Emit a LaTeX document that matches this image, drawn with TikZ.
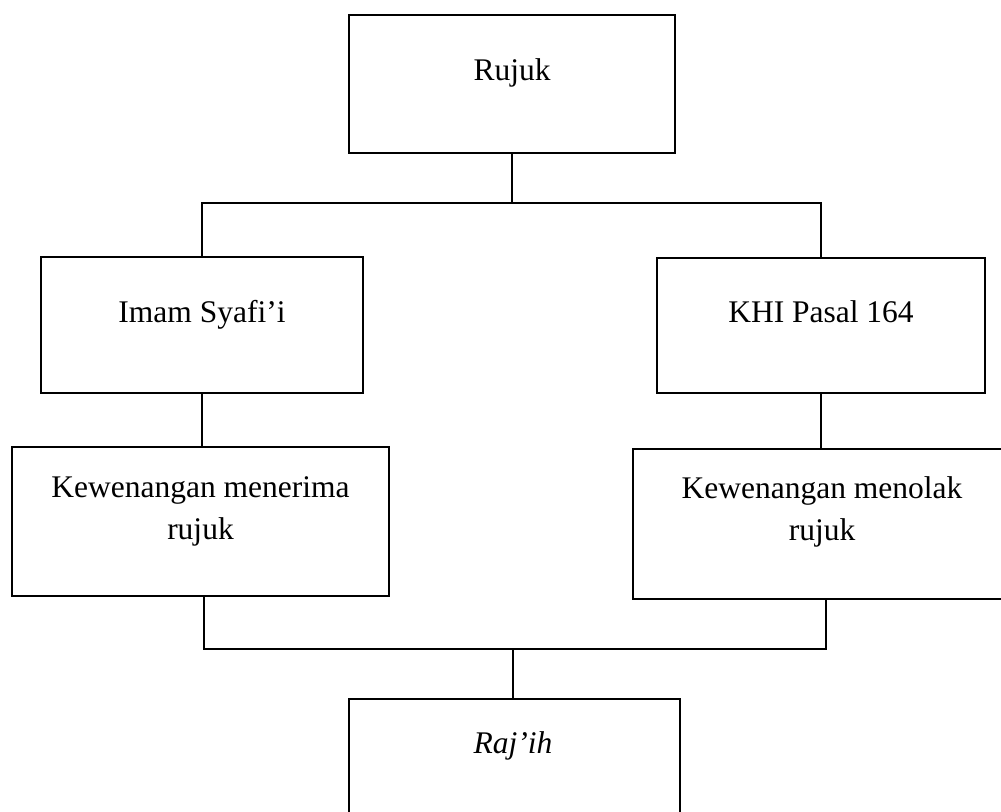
\documentclass[tikz,border=0pt]{standalone}
\usepackage{fontspec}
\setmainfont{Liberation Serif}
\begin{document}
\begin{tikzpicture}[x=1pt,y=-1pt,
  box/.style={draw,line width=1.4pt,minimum width=#1,inner sep=0pt},
  lbl/.style={anchor=base,inner sep=0pt,font=\fontsize{31.5}{42}\selectfont},
  conn/.style={line width=1.4pt}]
\useasboundingbox (0,0) rectangle (1001,811);
\clip (0,0) rectangle (1001,811);
% boxes
\node[box=326pt,minimum height=138pt] (rujuk) at (512,84) {};
\node[box=322pt,minimum height=136pt] (imam) at (202,325) {};
\node[box=328pt,minimum height=135pt] (khi) at (821,325.5) {};
\node[box=377pt,minimum height=149pt] (terima) at (200.5,521.5) {};
\node[box=378pt,minimum height=150pt] (tolak) at (822,524) {};
\node[box=331pt,minimum height=131pt] (rajih) at (514.5,764.5) {};
% labels
\node[lbl] (trujuk) at (512,80) {Rujuk};
\node[lbl] (timam) at (202,322) {Imam Syafi’i};
\node[lbl] (tkhi) at (821,322) {KHI Pasal 164};
\node[lbl] (tterima) at (200.5,497) {\begin{tabular}[t]{@{}c@{}}Kewenangan menerima\\rujuk\end{tabular}};
\node[lbl] (ttolak) at (822,498) {\begin{tabular}[t]{@{}c@{}}Kewenangan menolak\\rujuk\end{tabular}};
\node[lbl] (trajih) at (513,753) {\itshape Raj’ih};
% connectors
\coordinate (j1) at (511,203);
\coordinate (j2) at (513,649);
\coordinate (tl) at ([xshift=3.5pt]terima.south);
\coordinate (tr) at ([xshift=4pt]tolak.south);
\draw[conn] (rujuk.south) -- (rujuk.south |- j1);
\draw[conn] (imam.north) -- (imam.north |- j1) -- (khi.north |- j1) -- (khi.north);
\draw[conn] (imam.south) -- (imam.south |- terima.north);
\draw[conn] (khi.south) -- (khi.south |- tolak.north);
\draw[conn] (tl) -- (tl |- j2) -- (tr |- j2) -- (tr);
\draw[conn] (j2) -- (j2 |- rajih.north);
\end{tikzpicture}
\end{document}
